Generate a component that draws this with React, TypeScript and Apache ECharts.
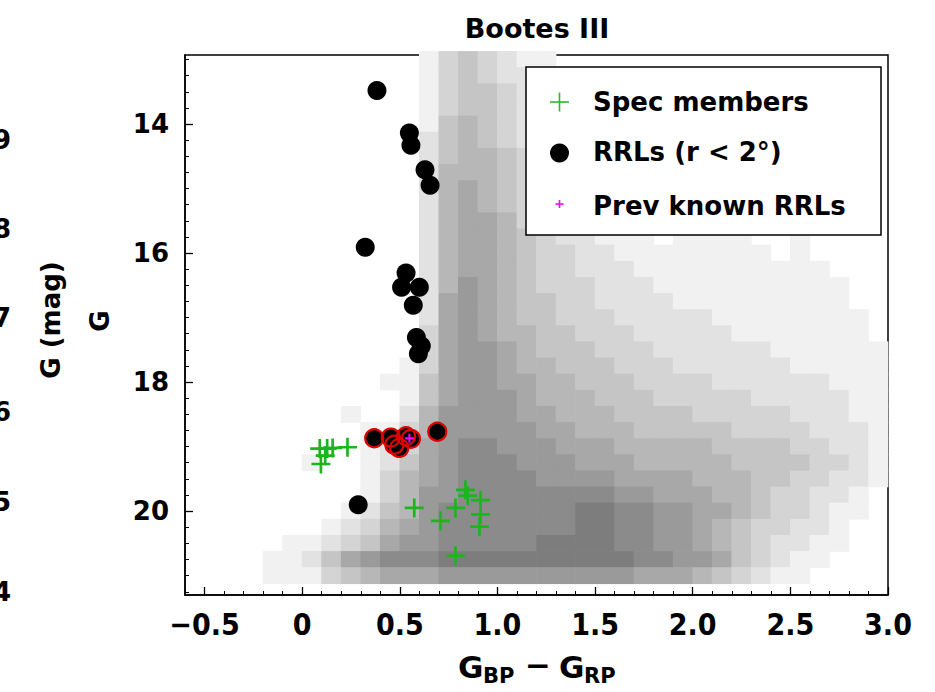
import React, { useEffect, useRef } from "react";
import * as echarts from "echarts";

// ---------------- data ----------------
// Gray background (field stars): density level 0-9 per cell.
// Columns: colour bin centres (G_BP - G_RP), rows: G magnitude bin centres.
const colorBins = [
  -0.55, -0.45, -0.35, -0.25, -0.15, -0.05, 0.05, 0.15, 0.25, 0.35, 0.45, 0.55,
  0.65, 0.75, 0.85, 0.95, 1.05, 1.15, 1.25, 1.35, 1.45, 1.55, 1.65, 1.75,
  1.85, 1.95, 2.05, 2.15, 2.25, 2.35, 2.45, 2.55, 2.65, 2.75, 2.85, 2.95,
];
const magBins = [
  13.0, 13.25, 13.5, 13.75, 14.0, 14.25, 14.5, 14.75, 15.0, 15.25, 15.5, 15.75,
  16.0, 16.25, 16.5, 16.75, 17.0, 17.25, 17.5, 17.75, 18.0, 18.25, 18.5, 18.75,
  19.0, 19.25, 19.5, 19.75, 20.0, 20.25, 20.5, 20.75, 21.0,
];
const densityRows = [
  "000000000000134321100000000000000000",
  "000000000000134322110000000000000000",
  "000000000000134432111000000000000000",
  "000000000000134432111111100000000000",
  "000000000000145432111111110000000000",
  "000000000000245432211111111000000000",
  "000000000000245543211111111110000000",
  "000000000000255543211111111111000000",
  "000000000000256543221111111111100000",
  "000000000000256543221111111111110000",
  "000000000000256653322111111111111000",
  "000000000000256654322111011110010000",
  "000000000000256654332211111111010000",
  "000000000000256654332221111111111000",
  "000000000000257654333222111111111100",
  "000000000000267654433222211111111100",
  "000000000000267654433322222111111110",
  "000000000000367655443332222211111110",
  "000000000000367765444333222222111111",
  "000000000001367765544433322222211111",
  "000000000011467766554443333222222111",
  "000000000001467776555444333332222211",
  "000000001002577776655544443333322211",
  "000000000113577777665554444433332221",
  "000000000123678877766655555444433221",
  "000000100124678887776665555544443321",
  "000000000135678888777766665554433221",
  "000000000135778888888877666554332210",
  "000000001245788888889988776654332110",
  "000000012356788888889988776543322100",
  "000001123467788888999988776543221100",
  "000011246788899999999998877643211000",
  "000011134566677777777776665432110000",
];

// Spectroscopic members (green +)
const specColor = [0.09, 0.128, 0.156, 0.232, 0.118, 0.096, 0.836, 0.848, 0.913, 0.574, 0.785, 0.913, 0.708, 0.908, 0.785];
const specG = [19.03, 19.03, 19.02, 19.01, 19.14, 19.27, 19.67, 19.76, 19.83, 19.95, 19.95, 20.05, 20.15, 20.24, 20.69];

// RRLs within 2 deg (black circles)
const rrlColor = [0.383, 0.549, 0.557, 0.629, 0.655, 0.323, 0.532, 0.509, 0.6, 0.569, 0.585, 0.61, 0.595, 0.287, 0.369, 0.454, 0.472, 0.497, 0.532, 0.557, 0.692];
const rrlG = [13.48, 14.14, 14.33, 14.71, 14.95, 15.91, 16.31, 16.53, 16.53, 16.81, 17.31, 17.44, 17.56, 19.9, 18.87, 18.86, 18.97, 19.02, 18.84, 18.88, 18.77];

// RRLs ringed in red (members)
const memberColor = [0.369, 0.454, 0.472, 0.497, 0.532, 0.557, 0.692];
const memberG = [18.87, 18.86, 18.97, 19.02, 18.84, 18.88, 18.77];

// Previously known RRLs (magenta +)
const prevColor = [0.549];
const prevG = [18.87];

// Axis ticks
const xTickLabels = [-0.5, 0, 0.5, 1.0, 1.5, 2.0, 2.5, 3.0];
const yTickLabels = [14, 16, 18, 20];
const leftCutLabels = ["9", "8", "7", "6", "5", "4"];

// ---------------- layout ----------------
const GRID = { left: 185, top: 55, width: 703, height: 540 };
const X_MIN = -0.6;
const X_MAX = 3.0;
const Y_MIN = 12.93;
const Y_MAX = 21.3;
const BOLD = "'DejaVu Sans', 'Noto Sans', sans-serif";
const NARROW = "'Liberation Sans Narrow', 'DejaVu Sans Condensed', 'DejaVu Sans', sans-serif";

const PLUS =
  "path://M-1.4,-10L1.4,-10L1.4,-1.4L10,-1.4L10,1.4L1.4,1.4L1.4,10L-1.4,10L-1.4,1.4L-10,1.4L-10,-1.4L-1.4,-1.4Z";
const PLUS_SMALL =
  "path://M-2.2,-10L2.2,-10L2.2,-2.2L10,-2.2L10,2.2L2.2,2.2L2.2,10L-2.2,10L-2.2,2.2L-10,2.2L-10,-2.2L-2.2,-2.2Z";

function buildOption() {
  const cellW = (0.1 / (X_MAX - X_MIN)) * GRID.width;
  const cellH = (0.25 / (Y_MAX - Y_MIN)) * GRID.height;

  const bgData: any[] = [];
  densityRows.forEach((row, r) => {
    for (let c = 0; c < colorBins.length; c++) {
      const lvl = Number(row.charAt(c) || "0");
      if (!lvl) continue;
      const a = lvl * 0.085;
      const g = Math.round(255 - a * 170);
      bgData.push({
        value: [colorBins[c], magBins[r]],
        itemStyle: { color: `rgb(${g},${g},${g})`, opacity: 1 },
      });
    }
  });

  const xMinor: number[] = [];
  for (let i = -6; i <= 30; i++) xMinor.push(i / 10);
  const yMinor: number[] = [];
  for (let i = 52; i <= 85; i++) yMinor.push(i / 4);

  const zip = (a: number[], b: number[]) => a.map((v, i) => [v, b[i]]);

  const xFmt = (v: number) =>
    v === 0 ? "0" : v < 0 ? "\u2212" + Math.abs(v).toFixed(1) : v.toFixed(1);

  const axisBase = { type: "value", splitLine: { show: false } };

  const txt = (text: string, x: number, y: number, size: number, align = "left", extra: any = {}) => ({
    type: "text",
    x,
    y,
    ...extra,
    style: { text, font: `bold ${size}px ${BOLD}`, fill: "#000", textAlign: align, textVerticalAlign: "middle" },
  });

  const graphic: any[] = [
    txt("Bootes III", 537, 28, 27, "center"),
    txt("G", 100, 321, 26, "center", { rotation: Math.PI / 2 }),
    txt("G (mag)", 51, 320, 26, "center", { rotation: Math.PI / 2 }),
    // x axis title G_BP - G_RP
    txt("G", 458, 667, 31),
    txt("BP", 483, 676, 21),
    txt("\u2212", 538, 665, 31, "center"),
    txt("G", 559, 667, 31),
    txt("RP", 584, 676, 21),
    // legend
    {
      type: "rect",
      shape: { x: 526, y: 67, width: 355, height: 168 },
      style: { fill: "#fff", stroke: "#000", lineWidth: 1.5 },
      z: 100,
    },
    { type: "line", shape: { x1: 550, y1: 102, x2: 569, y2: 102 }, style: { stroke: "#2db82d", lineWidth: 1.6 }, z: 101 },
    { type: "line", shape: { x1: 559.5, y1: 92.5, x2: 559.5, y2: 111.5 }, style: { stroke: "#2db82d", lineWidth: 1.6 }, z: 101 },
    { type: "circle", shape: { cx: 559.5, cy: 153, r: 9.5 }, style: { fill: "#000" }, z: 101 },
    { type: "line", shape: { x1: 555.5, y1: 204, x2: 563.5, y2: 204 }, style: { stroke: "#ff00ff", lineWidth: 1.6 }, z: 101 },
    { type: "line", shape: { x1: 559.5, y1: 200, x2: 559.5, y2: 208 }, style: { stroke: "#ff00ff", lineWidth: 1.6 }, z: 101 },
    txt("Spec members", 593, 102, 26, "left", { z: 101 }),
    txt("RRLs (r < 2\u00b0)", 593, 152, 26, "left", { z: 101 }),
    txt("Prev known RRLs", 593, 206, 26, "left", { z: 101 }),
  ];
  const cutY = [140, 229, 318, 412, 502, 592];
  leftCutLabels.forEach((t, i) => {
    graphic.push(txt(t, 11, cutY[i], 26, "right"));
  });

  return {
    animation: false,
    backgroundColor: "#fff",
    grid: { ...GRID, show: true, borderColor: "#000", borderWidth: 1.5, backgroundColor: "transparent", containLabel: false },
    xAxis: [
      {
        ...axisBase,
        min: X_MIN,
        max: X_MAX,
        position: "bottom",
        axisLine: { show: true, onZero: false, lineStyle: { color: "#000", width: 1.5 } },
        axisTick: { show: true, inside: true, length: 8, customValues: xTickLabels, lineStyle: { color: "#000", width: 1.3 } },
        axisLabel: {
          customValues: xTickLabels,
          formatter: xFmt,
          fontFamily: NARROW,
          fontWeight: "bold",
          fontSize: 30,
          color: "#000",
          margin: 14,
        },
      },
      {
        ...axisBase,
        min: X_MIN,
        max: X_MAX,
        position: "bottom",
        axisLine: { show: false, onZero: false },
        axisTick: { show: true, inside: true, length: 4, customValues: xMinor, lineStyle: { color: "#000", width: 1 } },
        axisLabel: { show: false },
      },
    ],
    yAxis: [
      {
        ...axisBase,
        min: Y_MIN,
        max: Y_MAX,
        inverse: true,
        position: "left",
        axisLine: { show: true, onZero: false, lineStyle: { color: "#000", width: 1.5 } },
        axisTick: { show: true, inside: true, length: 8, customValues: yTickLabels, lineStyle: { color: "#000", width: 1.3 } },
        axisLabel: {
          customValues: yTickLabels,
          fontFamily: BOLD,
          fontWeight: "bold",
          fontSize: 26,
          color: "#000",
          margin: 16,
        },
      },
      {
        ...axisBase,
        min: Y_MIN,
        max: Y_MAX,
        inverse: true,
        position: "left",
        axisLine: { show: false, onZero: false },
        axisTick: { show: true, inside: true, length: 4, customValues: yMinor, lineStyle: { color: "#000", width: 1 } },
        axisLabel: { show: false },
      },
    ],
    series: [
      {
        name: "field",
        type: "scatter",
        silent: true,
        clip: true,
        symbol: "rect",
        symbolSize: [cellW + 0.7, cellH + 0.7],
        itemStyle: { opacity: 1 },
        data: bgData,
      },
      {
        name: "Spec members",
        type: "scatter",
        silent: true,
        clip: true,
        symbol: PLUS,
        symbolSize: 19,
        itemStyle: { color: "#1db51d", opacity: 1 },
        data: zip(specColor, specG),
      },
      {
        name: "RRLs (r < 2\u00b0)",
        type: "scatter",
        silent: true,
        clip: true,
        symbol: "circle",
        symbolSize: 19,
        itemStyle: { color: "#000", opacity: 1 },
        data: zip(rrlColor, rrlG),
      },
      {
        name: "members",
        type: "scatter",
        silent: true,
        clip: true,
        symbol: "circle",
        symbolSize: 18,
        itemStyle: { color: "rgba(0,0,0,0)", borderColor: "#e00000", borderWidth: 2.2, opacity: 1 },
        data: zip(memberColor, memberG),
      },
      {
        name: "Prev known RRLs",
        type: "scatter",
        silent: true,
        clip: true,
        symbol: PLUS_SMALL,
        symbolSize: 9,
        itemStyle: { color: "#ff00ff", opacity: 1 },
        data: zip(prevColor, prevG),
      },
    ],
    graphic,
  };
}

export default function App() {
  const ref = useRef<HTMLDivElement>(null);
  useEffect(() => {
    if (!ref.current) return;
    const chart = echarts.init(ref.current, null, { renderer: "svg" });
    chart.setOption(buildOption() as any);
    return () => chart.dispose();
  }, []);
  return (
    <div
      ref={ref}
      style={{ position: "fixed", left: 0, top: 0, width: 935, height: 692, background: "#fff" }}
    />
  );
}
